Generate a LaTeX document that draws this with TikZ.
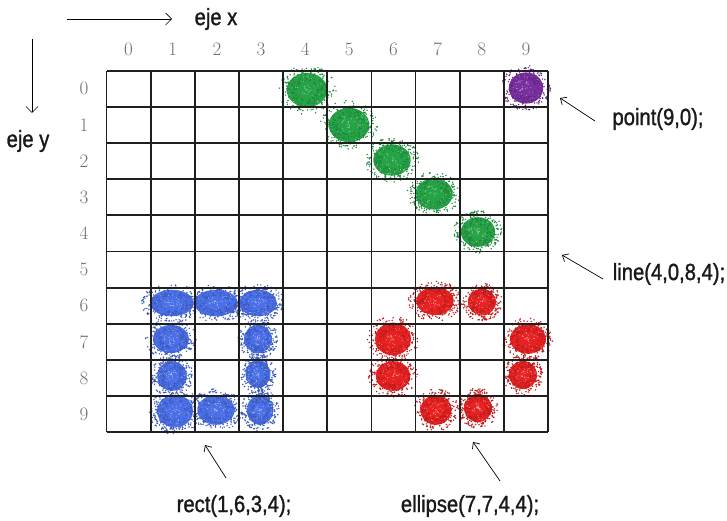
\documentclass[tikz,border=0pt]{standalone}
\usepackage{fontspec}
\newfontfamily\labfont[FakeStretch=0.86,FakeBold=1.2]{Liberation Sans}
\usetikzlibrary{arrows.meta}
\definecolor{gcol}{HTML}{27A347}
\definecolor{pcol}{HTML}{7A2FA0}
\definecolor{bcol}{HTML}{4A6FE6}
\definecolor{rcol}{HTML}{E82222}
\definecolor{numcol}{HTML}{707070}
\newcommand\myblob[5]{%
  \fill[#3] (#1,#2) ellipse [x radius={#4*0.78pt}, y radius={#5*0.78pt}];
  \fill[#3!82!black] \foreach \k [evaluate=\k as \ang using 360*rnd, evaluate=\k as \rad using 0.4+0.72*rnd] in {1,...,260}{
    ({#1+#4*\rad*cos(\ang)},{#2+#5*\rad*sin(\ang)}) circle [radius=0.8pt]};
  \fill[white!55!#3] \foreach \k [evaluate=\k as \ang using 360*rnd, evaluate=\k as \rad using 0.75*rnd] in {1,...,40}{
    ({#1+#4*\rad*cos(\ang)},{#2+#5*\rad*sin(\ang)}) circle [radius=0.5pt]};
}
\begin{document}
\begin{tikzpicture}[x=1pt,y=-1pt,
  gridline/.style={line width=1.8pt,draw=black!88},
  lab/.style={font=\labfont\fontsize{23.5}{23.5}\selectfont,text=black!90,inner sep=0pt},
  num/.style={font=\fontsize{19}{19}\selectfont,text=numcol,inner sep=0pt},
  arr/.style={line width=0.7pt,-{Straight Barb[length=6pt,width=12pt]}},
  sarr/.style={line width=0.7pt,-{Straight Barb[length=5pt,width=9pt]}}]
\useasboundingbox (0,0) rectangle (727,521);
\fill[white] (0,0) rectangle (727,521);
\pgfmathsetseed{11}
% blobs
\myblob{307}{90}{gcol}{26}{22}
\myblob{349}{125}{gcol}{26}{22}
\myblob{392}{160}{gcol}{24}{20}
\myblob{434}{194}{gcol}{24}{20}
\myblob{478}{232}{gcol}{22}{19}
\myblob{526}{88}{pcol}{22}{20}
\myblob{172}{303}{bcol}{28}{17}
\myblob{216}{303}{bcol}{28}{17}
\myblob{258}{303}{bcol}{24}{17}
\myblob{171}{339}{bcol}{23}{18}
\myblob{258}{339}{bcol}{18}{18}
\myblob{172}{376}{bcol}{19}{19}
\myblob{258}{374}{bcol}{16}{18}
\myblob{175}{411}{bcol}{23}{21}
\myblob{216}{410}{bcol}{24}{19}
\myblob{260}{410}{bcol}{17}{19}
\myblob{435}{301}{rcol}{24}{18}
\myblob{482}{302}{rcol}{18}{17}
\myblob{393}{339}{rcol}{23}{21}
\myblob{528}{339}{rcol}{23}{19}
\myblob{393}{376}{rcol}{22}{19}
\myblob{523}{375}{rcol}{18}{18}
\myblob{436}{410}{rcol}{20}{19}
\myblob{478}{408}{rcol}{18}{18}
% grid
\foreach \i in {0,...,10}{
  \draw[gridline] ({106.5+44.15*\i},70.7) -- ({106.5+44.15*\i},432.2);
  \draw[gridline] (106.5,{70.7+36.15*\i}) -- (548,{70.7+36.15*\i});
}
% numbers
\foreach \i in {0,...,9}{
  \node[num] (c\i) at ({106.5+44.15*(\i+0.5)},49) {\i};
  \node[num] (r\i) at (84,{70.7+36.15*(\i+0.5)}) {\i};
}
% axis labels
\node[lab] (ejex) at (216,19) {eje x};
\node[lab] (ejey) at (28,141) {eje y};
\coordinate (xa) at (67,19);
\coordinate (xb) at (172,19);
\draw[arr] (xa) -- (xb);
\coordinate (ya) at (32,39);
\coordinate (yb) at (32,113);
\draw[arr] (ya) -- (yb);
% annotations
\node[lab] (point) at (658,119) {point(9,0);};
\coordinate (pt) at (595,121);
\coordinate (ph) at (560,98);
\draw[sarr] (pt) -- (ph);
\node[lab] (line) at (669,274) {line(4,0,8,4);};
\coordinate (lt) at (603,279);
\coordinate (lh) at (562,255);
\draw[sarr] (lt) -- (lh);
\node[lab] (rect) at (234,506) {rect(1,6,3,4);};
\coordinate (rt) at (226,478);
\coordinate (rh) at (205,445);
\draw[sarr] (rt) -- (rh);
\node[lab] (ell) at (470,506) {ellipse(7,7,4,4);};
\coordinate (et) at (500,481);
\coordinate (eh) at (473,442);
\draw[sarr] (et) -- (eh);
\end{tikzpicture}
\end{document}
